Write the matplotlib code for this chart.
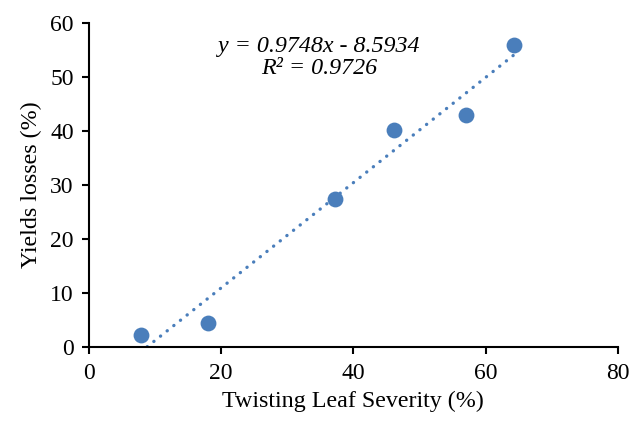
import matplotlib
matplotlib.use("Agg")
import matplotlib.pyplot as plt
import numpy as np

severity = [7.8, 18.0, 37.2, 46.2, 57.1, 64.3]
yield_loss = [2.1, 4.4, 27.4, 40.1, 42.9, 56.0]
slope = 0.9748
intercept = -8.5934
r2 = 0.9726
x_ticks = [0, 20, 40, 60, 80]
y_ticks = [0, 10, 20, 30, 40, 50, 60]

plt.rcParams['font.family'] = ['Liberation Serif', 'DejaVu Serif']
color = '#4a7ebb'

fig = plt.figure(figsize=(6.32, 4.21), dpi=100)
ax = fig.add_axes([0.1408, 0.1765, 0.9774 - 0.1408, 0.9454 - 0.1765])

xs = np.array([min(severity), max(severity)])
ax.plot(xs, slope * xs + intercept, color=color, lw=2.4,
        linestyle=(0, (0.05, 2.5)), dash_capstyle='round', zorder=2)
ax.scatter(severity, yield_loss, s=130, color=color, zorder=3, linewidths=0)

ax.set_xlim(0, 80)
ax.set_ylim(0, 60)
ax.set_xticks(x_ticks)
ax.set_yticks(y_ticks)
for s in ['top', 'right']:
    ax.spines[s].set_visible(False)
for s in ['left', 'bottom']:
    ax.spines[s].set_linewidth(1.5)
ax.tick_params(axis='both', direction='out', length=5, width=1.5, labelsize=17)
ax.tick_params(axis='x', pad=7)
ax.tick_params(axis='y', pad=6)
ax.set_xlabel('Twisting Leaf Severity (%)', fontsize=17.3, labelpad=5)
ax.set_ylabel('Yields losses (%)', fontsize=17.3, labelpad=6)

ax.text(0.435, 0.893, f'y = {slope}x - {abs(intercept)}\nR² = {r2}',
        transform=ax.transAxes, ha='center', va='center', fontsize=17.3,
        style='italic', linespacing=1.1)

fig.savefig('out.png', dpi=100)
